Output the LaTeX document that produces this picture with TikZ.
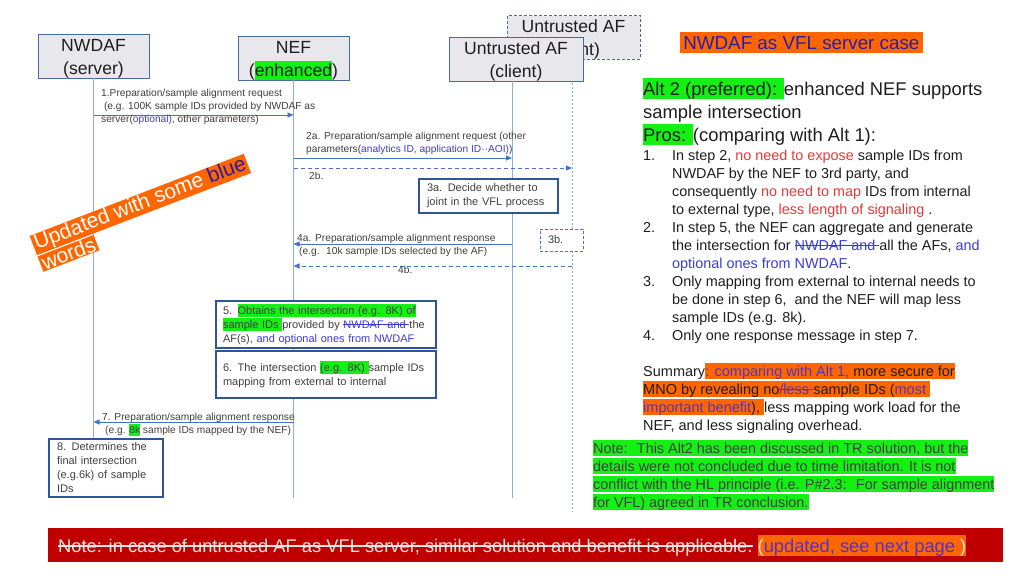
\documentclass[tikz,border=0pt]{standalone}
\usepackage{fontspec}
\setmainfont{Liberation Sans}
\usetikzlibrary{arrows.meta}
\definecolor{boxfill}{RGB}{232,232,236}
\definecolor{boxdraw}{RGB}{74,104,160}
\definecolor{procdraw}{RGB}{47,85,151}
\definecolor{lifec}{RGB}{143,170,220}
\definecolor{arrowc}{RGB}{68,114,196}
\definecolor{hlgreen}{RGB}{20,240,20}
\definecolor{hlorange}{RGB}{255,102,0}
\definecolor{tblue}{RGB}{60,60,215}
\definecolor{tred}{RGB}{232,56,56}
\definecolor{tgray}{RGB}{64,64,64}
\definecolor{tdark}{RGB}{30,30,30}
\definecolor{banred}{RGB}{192,0,0}
\definecolor{bantext}{RGB}{228,228,228}
\definecolor{titleblue}{RGB}{40,30,170}
\definecolor{tpurp}{RGB}{85,50,195}
\newsavebox\mystrikebox
\newcommand\mystrike[1]{\sbox\mystrikebox{#1}\rlap{\rule[0.3em]{\wd\mystrikebox}{0.07em}}\usebox\mystrikebox}
\newcommand\hlstrut{\rule[-0.21em]{0pt}{1.12em}}
\newcommand\hlgreenbox[1]{{\setlength{\fboxsep}{0pt}\colorbox{hlgreen}{\hlstrut#1}}}
\newcommand\hlorangebox[1]{{\setlength{\fboxsep}{0pt}\colorbox{hlorange}{\hlstrut#1}}}
\newcommand\txtblue[1]{{\color{tblue}#1}}
\newcommand\txtred[1]{{\color{tred}#1}}
\newcommand\txtpurp[1]{{\color{tpurp}#1}}
\newcommand\bstrike[1]{{\color{tblue}\mystrike{#1}}}
\newcommand\pstrike[1]{{\color{tpurp}\mystrike{#1}}}
\newcommand\topstrut{\rule{0pt}{17pt}}
\begin{document}
\begin{tikzpicture}[x=1pt,y=-1pt,
  lifebox/.style={draw=boxdraw, fill=boxfill, line width=0.9pt, minimum height=43pt, inner sep=0pt, align=center, font=\fontsize{17.6}{23}\selectfont, text=tdark},
  lifeline/.style={draw=lifec, line width=0.8pt},
  lifedash/.style={lifeline, dash pattern=on 2pt off 2pt},
  msg/.style={draw=arrowc, line width=0.9pt, -{Triangle[length=6pt,width=5pt]}},
  msgd/.style={msg, dash pattern=on 4pt off 3pt},
  lbl/.style={anchor=base west, inner sep=0pt, font=\fontsize{10.2}{13}\selectfont, text=tgray},
  proc/.style={draw=procdraw, fill=white, line width=1.1pt, inner ysep=0pt, align=left, font=\fontsize{11}{14}\selectfont, text=tgray},
  rt/.style={anchor=base west, inner sep=0pt, text=tdark},
  fsalt/.style={font=\fontsize{18.4}{23}\selectfont},
  fslist/.style={font=\fontsize{14.4}{18}\selectfont},
  fssum/.style={font=\fontsize{14.5}{18}\selectfont},
  updbox/.style={rotate=21, anchor=base west, fill=hlorange, inner xsep=2pt, inner ysep=0.5pt, text=white, font=\fontsize{21}{22}\selectfont}
]
\useasboundingbox (0,0) rectangle (1024,576);
\fill[white] (0,0) rectangle (1024,576);

% back (dashed) Untrusted AF
\node[lifebox, minimum width=133pt, dash pattern=on 3pt off 2pt] (afback) at (573.5,37.5) {\topstrut Untrusted AF\\(client)};
\coordinate (afbTop) at (572,59);
\coordinate (afbBot) at (572,512);
\draw[lifedash] (afbTop) -- (afbBot);

% lifeline heads
\node[lifebox, minimum width=134pt, minimum height=44pt] (af) at (516,59) {\topstrut Untrusted AF\\(client)};
\node[lifebox, minimum width=111pt] (nwdaf) at (93.5,56.5) {\topstrut NWDAF\\(server)};
\node[lifebox, minimum width=111pt] (nef) at (293.5,58.5) {\topstrut NEF\\(\hlgreenbox{enhanced})};

% lifelines
\coordinate (nwTop) at (93.5,78);
\coordinate (nwBot) at (93.5,439);
\coordinate (neTop) at (293.5,80);
\coordinate (neBot) at (293.5,498);
\coordinate (afTop) at (512,81);
\coordinate (afBot) at (512,498);
\draw[lifeline] (nwTop) -- (nwBot);
\draw[lifeline] (neTop) -- (neBot);
\draw[lifeline] (afTop) -- (afBot);

% message end points
\coordinate (m1s) at (93.5,115);  \coordinate (m1e) at (293.5,115);
\coordinate (m2s) at (293.5,158); \coordinate (m2e) at (512,158);
\coordinate (m2bs) at (293.5,168); \coordinate (m2be) at (572,168);
\coordinate (m4s) at (512,244);   \coordinate (m4e) at (293.5,244);
\coordinate (m4bs) at (572,266);  \coordinate (m4be) at (293.5,266);
\coordinate (m7s) at (293.5,422); \coordinate (m7e) at (93.5,422);
\draw[msg] (m1s) -- (m1e);
\draw[msg] (m2s) -- (m2e);
\draw[msgd] (m2bs) -- (m2be);
\draw[msg] (m4s) -- (m4e);
\draw[msgd] (m4bs) -- (m4be);
\draw[msg] (m7s) -- (m7e);

% message labels
\node[lbl] (l1a) at (101,96.5) {1.Preparation/sample alignment request};
\node[lbl] (l1b) at (101,109.5) {\ (e.g. 100K sample IDs provided by NWDAF as};
\node[lbl] (l1c) at (101,122.5) {server(\txtblue{optional),} other parameters)};
\node[lbl] (l2a) at (306,139) {2a. Preparation/sample alignment request (other};
\node[lbl] (l2b) at (306,152) {parameters(\txtblue{analytics ID, application ID··AOI)})};
\node[lbl] (l2c) at (309,179) {2b.};
\node[lbl] (l4a) at (297,241) {4a. Preparation/sample alignment response};
\node[lbl] (l4b) at (299,254) {(e.g.~ 10k sample IDs selected by the AF)};
\node[lbl] (l4c) at (398,273.5) {4b.};
\node[lbl] (l7a) at (102,420.5) {7. Preparation/sample alignment response};
\node[lbl] (l7b) at (105,433.5) {(e.g. \hlgreenbox{8k} sample IDs mapped by the NEF)};

% process boxes
\node[proc, text width=123pt, inner xsep=8pt, minimum height=34pt] (s3a) at (488.5,196) {3a. Decide whether to\\joint in the VFL process};
\node[proc, draw=arrowc, dash pattern=on 3pt off 2pt, line width=1pt, text width=27pt, inner xsep=8pt, minimum height=22pt] (s3b) at (561.5,240) {3b.};
\node[proc, text width=206pt, inner xsep=7pt, minimum height=47pt] (s5) at (326,324.5) {5. \hlgreenbox{Obtains the intersection (e.g. 8K) of}\\\hlgreenbox{sample IDs }provided by \bstrike{NWDAF and }the\\AF(s), \txtblue{and optional ones from NWDAF}};
\node[proc, text width=206pt, inner xsep=7pt, minimum height=47pt] (s6) at (326,374.5) {6. The intersection \hlgreenbox{(e.g. 8K) }sample IDs\\mapping from external to internal};
\node[proc, text width=98pt, inner xsep=8pt, minimum height=58pt] (s8) at (106,468) {8. Determines the\\final intersection\\(e.g.6k) of sample\\IDs};

% rotated banner
\node[updbox] (upd1) at (35.1,250.7) {Updated with some {\color{titleblue}blue}};
\node[updbox] (upd2) at (43.0,271.2) {words};

% title
\node[rt, font=\fontsize{18.8}{22}\selectfont] (title) at (680,49) {\hlorangebox{\color{titleblue}\,NWDAF as VFL server case\,}};

% Alt 2 text
\node[rt, fsalt] (alt1) at (643,95) {\hlgreenbox{Alt 2 (preferred): }enhanced NEF supports};
\node[rt, fsalt] (alt2) at (643,118) {sample intersection};
\node[rt, fsalt] (alt3) at (643,141) {\hlgreenbox{Pros: }(comparing with Alt 1):};

% list
\node[rt, fslist] (n1) at (643,160) {1.};
\node[rt, fslist] (i1a) at (672,160) {In step 2, \txtred{no need to expose} sample IDs from};
\node[rt, fslist] (i1b) at (672,178) {NWDAF by the NEF to 3rd party, and};
\node[rt, fslist] (i1c) at (672,196) {consequently \txtred{no need to map} IDs from internal};
\node[rt, fslist] (i1d) at (672,214) {to external type, \txtred{less length of signaling} .};
\node[rt, fslist] (n2) at (643,232) {2.};
\node[rt, fslist] (i2a) at (672,232) {In step 5, the NEF can aggregate and generate};
\node[rt, fslist] (i2b) at (672,250) {the intersection for \bstrike{NWDAF and }all the AFs, \txtblue{and}};
\node[rt, fslist] (i2c) at (672,268) {\txtblue{optional ones from NWDAF}.};
\node[rt, fslist] (n3) at (643,286) {3.};
\node[rt, fslist] (i3a) at (672,286) {Only mapping from external to internal needs to};
\node[rt, fslist] (i3b) at (672,304) {be done in step 6,~ and the NEF will map less};
\node[rt, fslist] (i3c) at (672,322) {sample IDs (e.g. 8k).};
\node[rt, fslist] (n4) at (643,340) {4.};
\node[rt, fslist] (i4a) at (672,340) {Only one response message in step 7.};

% summary
\node[rt, fssum] (su1) at (643,376) {Summary\hlorangebox{\txtpurp{: comparing with Alt 1,} more secure for}};
\node[rt, fssum] (su2) at (643,394) {\hlorangebox{MNO by revealing no\pstrike{/less }sample IDs (\txtpurp{most }}};
\node[rt, fssum] (su3) at (643,412) {\hlorangebox{\txtpurp{important benefit}), }less mapping work load for the};
\node[rt, fssum] (su4) at (643,430) {NEF, and less signaling overhead.};

% note
\node[rt, fslist, text=tgray] (no1) at (593,453) {\hlgreenbox{Note:~ This Alt2 has been discussed in TR solution, but the}};
\node[rt, fslist, text=tgray] (no2) at (593,471) {\hlgreenbox{details were not concluded due to time limitation. It is not}};
\node[rt, fslist, text=tgray] (no3) at (593,489) {\hlgreenbox{conflict with the HL principle (i.e. P\#2.3:~ For sample alignment}};
\node[rt, fslist, text=tgray] (no4) at (593,507) {\hlgreenbox{for VFL) agreed in TR conclusion.}};

% bottom banner
\node[fill=banred, minimum width=955pt, minimum height=34pt, inner sep=0pt] (ban) at (525.5,545) {};
\node[rt, font=\fontsize{18.3}{22}\selectfont] (bantxt) at (58,552) {{\color{bantext}\mystrike{Note: in case of untrusted AF as VFL server, similar solution and benefit is applicable.} }\hlorangebox{{\color{bantext}(}\txtpurp{updated, see next page }{\color{bantext})}}};
\end{tikzpicture}
\end{document}
